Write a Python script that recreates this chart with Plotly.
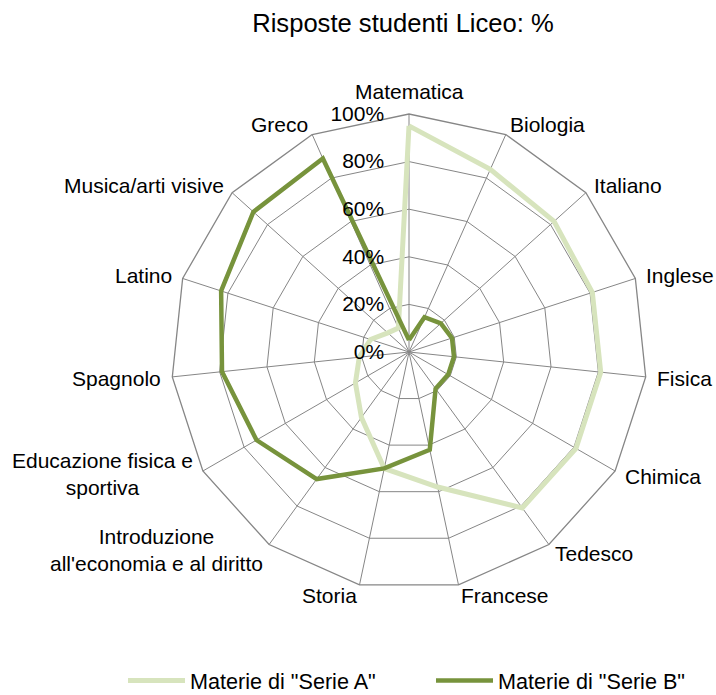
import math
import plotly.graph_objects as go

categories = ["Matematica", "Biologia", "Italiano", "Inglese", "Fisica", "Chimica",
              "Tedesco", "Francese", "Storia",
              "Introduzione<br>all'economia e al diritto",
              "Educazione fisica e<br>sportiva", "Spagnolo", "Latino",
              "Musica/arti visive", "Greco"]
serie_a = [95, 84, 82, 81, 81, 81, 81, 58, 50, 34, 26, 21, 17, 12, 11]
serie_b = [5, 16, 18, 19, 19, 19, 19, 42, 50, 66, 74, 79, 83, 88, 89]
radial_ticks = [0, 20, 40, 60, 80, 100]
series_names = ['Materie di "Serie A"', 'Materie di "Serie B"']

FONT = "Liberation Sans, Arial, sans-serif"
GRID = "#868686"
W, H = 716, 695

fig = go.Figure()
fig.add_trace(go.Scatterpolar(
    r=serie_a + serie_a[:1], theta=categories + categories[:1],
    mode="lines", name=series_names[0],
    line=dict(color="#D7E4BD", width=5)))
fig.add_trace(go.Scatterpolar(
    r=serie_b + serie_b[:1], theta=categories + categories[:1],
    mode="lines", name=series_names[1],
    line=dict(color="#77933C", width=4.5)))

# polar centre (409, 352) in page px, radius 238
cx, cy, R = 409, 352, 238

# category labels placed just outside each polygon vertex (Excel-like placement)
GAP = 11
annotations = []
n = len(categories)
for i, lab in enumerate(categories):
    ang = math.radians(360 * i / n)
    s, c = math.sin(ang), math.cos(ang)
    vx, vy = cx + R * s, cy - R * c
    if abs(s) < 0.05:
        xa, ya = "center", ("bottom" if c > 0 else "top")
        px, py = vx, vy - GAP * c
    else:
        xa, ya = ("left" if s > 0 else "right"), "middle"
        px, py = vx + GAP * s, vy - GAP * c
    if "<br>" in lab:
        py -= 3
    annotations.append(dict(
        text=lab, x=px / W, y=1 - py / H, xref="paper", yref="paper",
        xanchor=xa, yanchor=ya, align="center", showarrow=False,
        borderpad=0, borderwidth=0, font=dict(size=21)))

fig.update_layout(
    width=W, height=H,
    margin=dict(l=0, r=0, t=0, b=0, autoexpand=False),
    paper_bgcolor="white",
    font=dict(family=FONT, size=21, color="black"),
    title=dict(text="Risposte studenti Liceo: %", x=403 / W, xanchor="center",
               y=1 - 23 / H, yanchor="middle", font=dict(size=25.6)),
    polar=dict(
        domain=dict(x=[(cx - R) / W, (cx + R) / W],
                    y=[1 - (cy + R) / H, 1 - (cy - R) / H]),
        bgcolor="white",
        gridshape="linear",
        angularaxis=dict(direction="clockwise", rotation=90,
                         showline=True, linecolor=GRID, linewidth=1.3,
                         gridcolor=GRID, gridwidth=1.3,
                         ticks="", showticklabels=False),
        radialaxis=dict(range=[0, 100], tickvals=radial_ticks,
                        ticktext=[f"{v}%" for v in radial_ticks],
                        angle=90, tickangle=90, side="counterclockwise",
                        showline=False, gridcolor=GRID, gridwidth=1.3,
                        ticks="outside", ticklen=17, tickcolor="rgba(0,0,0,0)",
                        tickfont=dict(size=21)),
    ),
    annotations=annotations,
    legend=dict(orientation="h", x=123 / W, xanchor="left", y=1 - 681 / H,
                yanchor="middle", font=dict(size=21.6), itemwidth=57,
                entrywidth=236, bgcolor="rgba(0,0,0,0)"),
    showlegend=True,
)

fig.write_html(
    "out.html",
    config={"displayModeBar": False},
    post_script="document.body.style.margin='0px';"
                "document.body.style.overflow='hidden';")
